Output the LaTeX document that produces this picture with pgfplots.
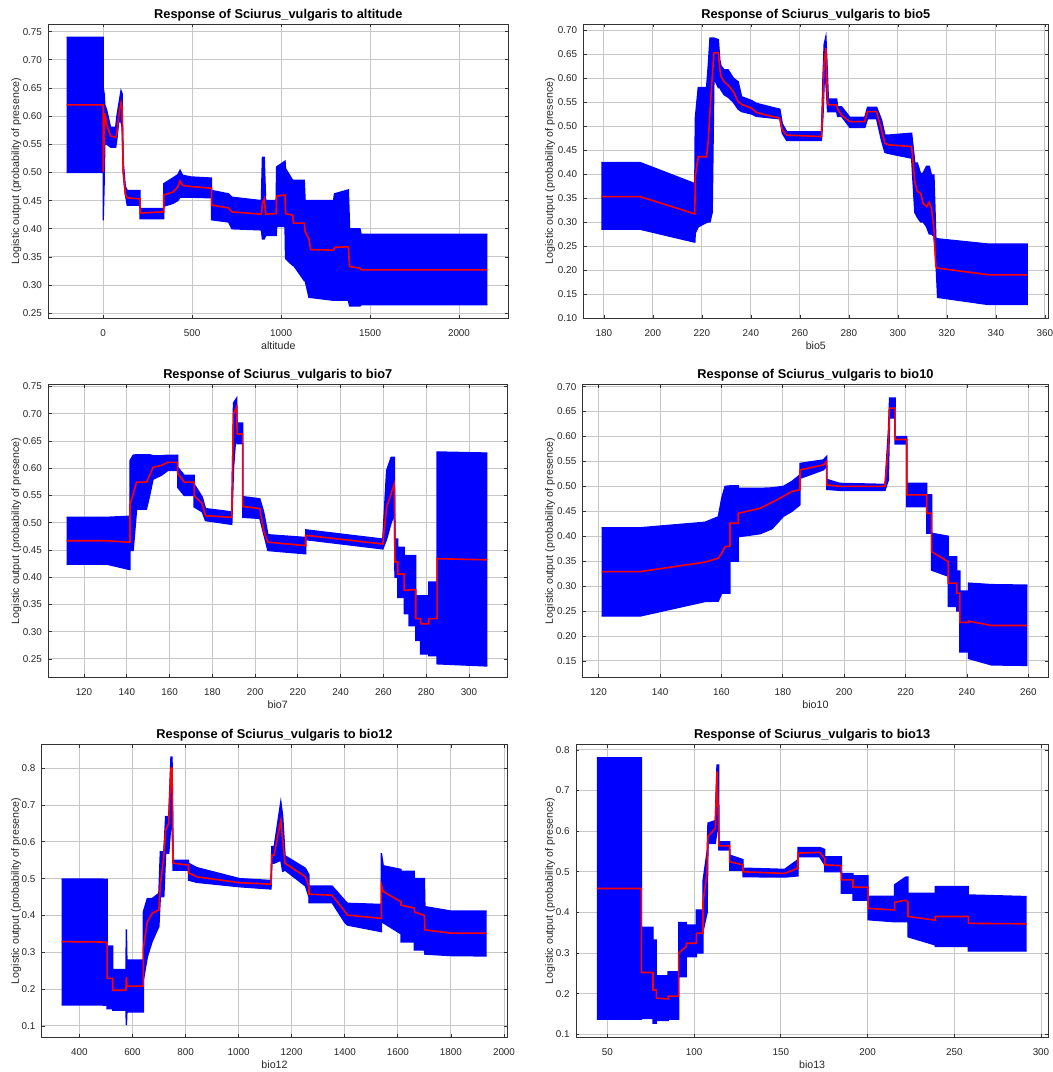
\documentclass[border=0pt]{standalone}
\usepackage{fontspec}
\setmainfont{Liberation Sans}
\usepackage{pgfplots}
\usepackage{pgfplotstable}
\pgfplotsset{compat=1.18}
\usepgfplotslibrary{fillbetween}

\pgfplotstableread{
x lo hi m
-206 0.500 0.740 0.620
0 0.500 0.740 0.620
0 0.415 0.650 0.500
5 0.480 0.640 0.560
9 0.550 0.620 0.605
20 0.550 0.610 0.585
41 0.545 0.580 0.565
70 0.545 0.580 0.562
77 0.560 0.600 0.570
87 0.590 0.620 0.600
100 0.590 0.645 0.624
106 0.580 0.640 0.615
112 0.500 0.520 0.505
124 0.462 0.475 0.462
135 0.442 0.468 0.455
207 0.442 0.468 0.453
207 0.418 0.436 0.428
340 0.418 0.436 0.430
340 0.440 0.480 0.460
391 0.445 0.490 0.465
419 0.450 0.496 0.474
432 0.456 0.504 0.485
446 0.456 0.495 0.477
493 0.456 0.492 0.475
609 0.455 0.490 0.472
609 0.416 0.468 0.442
705 0.412 0.462 0.437
723 0.400 0.456 0.430
889 0.398 0.450 0.426
895 0.382 0.527 0.445
905 0.382 0.527 0.453
913 0.388 0.450 0.426
972 0.388 0.450 0.427
975 0.404 0.510 0.458
1022 0.404 0.520 0.460
1025 0.347 0.507 0.427
1065 0.335 0.486 0.424
1070 0.335 0.486 0.410
1130 0.308 0.486 0.410
1135 0.308 0.450 0.395
1157 0.278 0.450 0.382
1166 0.278 0.450 0.363
1295 0.273 0.450 0.362
1300 0.273 0.462 0.367
1378 0.273 0.469 0.368
1385 0.263 0.400 0.333
1443 0.263 0.400 0.330
1450 0.265 0.390 0.327
2159 0.265 0.390 0.327
}\tA

\pgfplotstableread{
x lo hi m
179 0.285 0.424 0.353
194.7 0.285 0.424 0.353
217.1 0.258 0.380 0.317
217.3 0.277 0.516 0.395
218.5 0.290 0.580 0.436
221.9 0.299 0.580 0.436
222.6 0.300 0.627 0.470
223.3 0.300 0.683 0.530
224.2 0.320 0.683 0.600
224.9 0.600 0.683 0.652
226.7 0.580 0.680 0.653
227.3 0.580 0.638 0.620
227.8 0.575 0.625 0.603
229.1 0.565 0.617 0.592
230.7 0.560 0.617 0.585
232.8 0.550 0.600 0.572
234.8 0.535 0.592 0.551
236.2 0.530 0.561 0.545
240.3 0.525 0.553 0.537
242.3 0.520 0.547 0.528
251.8 0.515 0.535 0.516
252.8 0.485 0.505 0.492
254.6 0.470 0.488 0.481
268.8 0.470 0.488 0.478
269.4 0.520 0.600 0.550
269.9 0.590 0.670 0.631
270.6 0.590 0.686 0.662
271.3 0.530 0.600 0.551
271.6 0.530 0.556 0.544
275.0 0.530 0.556 0.544
275.4 0.520 0.540 0.535
277.0 0.520 0.540 0.523
280.4 0.497 0.518 0.509
286.5 0.497 0.518 0.509
287.6 0.515 0.539 0.530
291.3 0.515 0.539 0.530
293.3 0.470 0.513 0.492
294.7 0.445 0.481 0.464
296.0 0.443 0.481 0.461
305.6 0.433 0.485 0.457
306.9 0.320 0.423 0.384
307.9 0.310 0.423 0.364
309.3 0.300 0.400 0.360
310.3 0.300 0.402 0.339
311.7 0.290 0.416 0.332
312.8 0.275 0.416 0.341
313.7 0.275 0.398 0.329
314.7 0.270 0.398 0.284
315.5 0.220 0.265 0.207
316.2 0.143 0.265 0.204
337 0.128 0.254 0.190
353 0.128 0.254 0.190
}\tB

\pgfplotstableread{
x lo hi m
111.9 0.424 0.510 0.467
130.6 0.424 0.510 0.467
141.5 0.414 0.512 0.464
141.5 0.449 0.614 0.532
143.0 0.449 0.624 0.553
144.6 0.525 0.625 0.5745
149.2 0.525 0.625 0.5745
150.7 0.550 0.625 0.587
152.3 0.580 0.623 0.602
156.1 0.587 0.623 0.605
159.2 0.596 0.624 0.611
163.8 0.596 0.624 0.611
163.8 0.565 0.602 0.591
166.9 0.550 0.587 0.5745
171.5 0.550 0.587 0.5745
171.5 0.529 0.571 0.550
175.3 0.520 0.547 0.535
176.8 0.504 0.526 0.513
189.1 0.497 0.520 0.510
189.9 0.600 0.720 0.700
191.4 0.680 0.729 0.713
191.6 0.645 0.683 0.663
194.2 0.645 0.683 0.663
194.2 0.510 0.548 0.530
202.2 0.508 0.544 0.526
204.0 0.480 0.520 0.486
206.0 0.449 0.478 0.4644
223.7 0.443 0.473 0.458
223.7 0.469 0.487 0.477
259.7 0.452 0.470 0.461
261.5 0.470 0.596 0.529
263.6 0.500 0.620 0.553
265.1 0.516 0.620 0.5715
265.4 0.400 0.470 0.428
266.7 0.400 0.470 0.428
266.7 0.363 0.455 0.406
269.7 0.363 0.455 0.406
269.7 0.333 0.440 0.376
272 0.333 0.440 0.376
272 0.311 0.440 0.377
275.1 0.311 0.440 0.377
275.1 0.284 0.366 0.324
277.4 0.284 0.366 0.324
277.4 0.259 0.366 0.3145
281.2 0.259 0.366 0.3145
281.2 0.256 0.391 0.324
285.1 0.256 0.391 0.324
285.1 0.241 0.630 0.434
308.6 0.237 0.628 0.432
}\tC

\pgfplotstableread{
x lo hi m
121 0.240 0.417 0.329
133.5 0.240 0.417 0.329
154.6 0.269 0.428 0.348
159.0 0.270 0.439 0.356
160.1 0.286 0.476 0.366
161.2 0.286 0.500 0.379
162.8 0.286 0.501 0.380
162.8 0.350 0.501 0.426
165.5 0.350 0.501 0.426
165.5 0.399 0.496 0.446
172.6 0.405 0.496 0.456
176.5 0.415 0.497 0.468
180.2 0.440 0.500 0.480
183.0 0.450 0.510 0.490
185.6 0.463 0.523 0.493
185.6 0.516 0.546 0.533
193.2 0.533 0.553 0.543
194.3 0.540 0.560 0.550
194.3 0.494 0.514 0.503
198.6 0.492 0.506 0.500
213.3 0.492 0.504 0.500
214.4 0.513 0.610 0.580
214.8 0.637 0.677 0.657
216.6 0.637 0.677 0.657
216.6 0.585 0.600 0.594
220.4 0.585 0.600 0.594
220.4 0.459 0.506 0.483
226.9 0.459 0.506 0.483
226.9 0.406 0.483 0.446
228.5 0.406 0.483 0.446
228.5 0.332 0.406 0.369
233.9 0.320 0.400 0.349
233.9 0.259 0.359 0.306
236.7 0.259 0.359 0.306
236.7 0.250 0.330 0.286
237.7 0.250 0.330 0.286
237.7 0.168 0.290 0.2275
240.5 0.168 0.290 0.227
240.5 0.155 0.306 0.230
248 0.142 0.303 0.221
259.7 0.141 0.302 0.221
}\tD

\pgfplotstableread{
x lo hi m
333.4 0.157 0.499 0.329
480 0.157 0.499 0.328
504.4 0.156 0.498 0.327
504.4 0.147 0.317 0.229
525.5 0.147 0.317 0.229
525.5 0.143 0.253 0.197
575.2 0.143 0.253 0.197
577 0.102 0.362 0.233
579 0.138 0.279 0.208
641 0.138 0.279 0.208
641 0.224 0.410 0.310
656 0.288 0.446 0.383
674.5 0.330 0.446 0.406
699.4 0.370 0.460 0.415
705 0.451 0.573 0.483
718 0.451 0.573 0.560
725 0.569 0.669 0.632
736.6 0.569 0.669 0.650
745 0.650 0.830 0.800
749 0.650 0.830 0.800
753 0.523 0.550 0.542
811 0.523 0.550 0.537
811 0.496 0.542 0.516
842 0.490 0.530 0.505
1004 0.478 0.500 0.489
1122 0.472 0.495 0.485
1125 0.542 0.587 0.564
1134 0.542 0.587 0.564
1159 0.550 0.709 0.659
1166 0.520 0.670 0.605
1175 0.523 0.562 0.542
1252 0.480 0.528 0.505
1265 0.450 0.510 0.478
1265 0.435 0.480 0.458
1352 0.435 0.480 0.455
1401 0.380 0.440 0.410
1410 0.374 0.433 0.401
1538 0.356 0.430 0.392
1538 0.392 0.569 0.483
1545 0.380 0.535 0.465
1612 0.350 0.525 0.437
1612 0.328 0.520 0.428
1662 0.328 0.520 0.420
1662 0.306 0.500 0.410
1700 0.306 0.500 0.400
1702 0.295 0.424 0.361
1800 0.291 0.412 0.352
1935 0.290 0.412 0.352
}\tE

\pgfplotstableread{
x lo hi m
43.9 0.137 0.781 0.459
69.6 0.137 0.781 0.459
69.6 0.139 0.3635 0.252
76.3 0.139 0.3635 0.252
76.3 0.127 0.332 0.209
78.2 0.127 0.332 0.209
78.2 0.134 0.244 0.189
85 0.134 0.244 0.187
85 0.137 0.254 0.194
91.1 0.137 0.254 0.194
91.1 0.242 0.375 0.300
95.5 0.242 0.375 0.316
95.5 0.291 0.369 0.324
101.3 0.291 0.369 0.324
101.3 0.300 0.406 0.349
105.1 0.300 0.406 0.349
105.1 0.353 0.476 0.422
107.5 0.400 0.550 0.500
108 0.570 0.620 0.587
112.2 0.570 0.626 0.607
113.2 0.600 0.763 0.747
114.2 0.600 0.763 0.600
114.3 0.554 0.574 0.564
120.5 0.554 0.574 0.564
120.5 0.504 0.541 0.525
128.2 0.504 0.530 0.517
128.2 0.488 0.509 0.500
152.2 0.487 0.506 0.496
159.9 0.490 0.530 0.509
159.9 0.537 0.560 0.546
172.4 0.537 0.560 0.548
175.3 0.517 0.555 0.533
175.3 0.500 0.537 0.517
184.9 0.500 0.537 0.515
184.9 0.447 0.496 0.480
191.6 0.447 0.496 0.480
191.6 0.430 0.490 0.462
200.3 0.430 0.490 0.462
200.3 0.382 0.440 0.410
215.6 0.377 0.440 0.406
215.6 0.377 0.468 0.425
222 0.377 0.487 0.430
223.3 0.377 0.487 0.425
223.3 0.340 0.447 0.390
239 0.320 0.447 0.381
239 0.316 0.464 0.390
258.1 0.316 0.464 0.390
258.1 0.305 0.443 0.373
291.7 0.305 0.439 0.372
}\tF

\pgfplotsset{
  resp/.style={
    scale only axis, anchor=north west,
    grid=major, grid style={draw=black!22, line width=0.7pt},
    axis line style={draw=black!80, line width=0.7pt},
    every tick/.style={draw=black!80, line width=0.6pt},
    tick align=inside, major tick length=2.5pt,
    /pgf/number format/assume math mode=true,
    /pgf/number format/1000 sep={},
    scaled ticks=false,
    tick label style={font=\fontsize{7.4}{8.5}\selectfont, text=black!85},
    xticklabel style={yshift=-5pt},
    yticklabel style={xshift=-1.2pt},
    label style={font=\fontsize{8}{9}\selectfont, text=black!85},
    title style={font=\bfseries\fontsize{9.6}{11}\selectfont, at={(axis description cs:0.5,1)}, anchor=base, yshift=-2pt},
    ylabel={Logistic output (probability of presence)},
    xlabel style={at={(axis description cs:0.5,0)}, anchor=center, yshift=-20.3pt},
  },
  ylab/.style={ylabel style={at={(axis description cs:0,0.5)}, anchor=center, yshift=#1}},
  ytwo/.style={yticklabel style={/pgf/number format/.cd, fixed, fixed zerofill, precision=2}},
  yone/.style={yticklabel style={/pgf/number format/.cd, fixed, fixed zerofill, precision=1}},
}

\newcommand{\band}[2]{%
  \addplot[blue, line width=1pt, name path=hi#2] table[x=x,y=hi]{#1};
  \addplot[blue, line width=1pt, name path=lo#2] table[x=x,y=lo]{#1};
  \addplot[blue] fill between[of=hi#2 and lo#2];
  \addplot[red, line width=1.2pt] table[x=x,y=m]{#1};
}

\begin{document}
\begin{tikzpicture}

\begin{axis}[resp, ytwo, ylab=24pt, at={(36.2pt,786pt)}, width=345pt, height=220.7pt,
  title={Response of Sciurus\_vulgaris to altitude}, xlabel={altitude},
  xmin=-309, xmax=2277, ymin=0.2411, ymax=0.7636,
  xtick={0,500,1000,1500,2000},
  ytick={0.25,0.30,0.35,0.40,0.45,0.50,0.55,0.60,0.65,0.70,0.75}]
  \band{\tA}{A}
\end{axis}

\begin{axis}[resp, ytwo, ylab=25pt, at={(437.5pt,786pt)}, width=348.75pt, height=220.7pt,
  title={Response of Sciurus\_vulgaris to bio5}, xlabel={bio5},
  xmin=171.6, xmax=361.4, ymin=0.0995, ymax=0.7125,
  xtick={180,200,220,240,260,280,300,320,340,360},
  ytick={0.10,0.15,0.20,0.25,0.30,0.35,0.40,0.45,0.50,0.55,0.60,0.65,0.70}]
  \band{\tB}{B}
\end{axis}

\begin{axis}[resp, ytwo, ylab=24pt, at={(36.2pt,515.8pt)}, width=344.25pt, height=220pt,
  title={Response of Sciurus\_vulgaris to bio7}, xlabel={bio7},
  xmin=103.3, xmax=317.9, ymin=0.2157, ymax=0.7543,
  xtick={120,140,160,180,200,220,240,260,280,300},
  ytick={0.25,0.30,0.35,0.40,0.45,0.50,0.55,0.60,0.65,0.70,0.75}]
  \band{\tC}{C}
\end{axis}

\begin{axis}[resp, ytwo, ylab=24.5pt, at={(437pt,515.8pt)}, width=349.2pt, height=220pt,
  title={Response of Sciurus\_vulgaris to bio10}, xlabel={bio10},
  xmin=114.8, xmax=266.5, ymin=0.1166, ymax=0.7047,
  xtick={120,140,160,180,200,220,240,260},
  ytick={0.15,0.20,0.25,0.30,0.35,0.40,0.45,0.50,0.55,0.60,0.65,0.70}]
  \band{\tD}{D}
\end{axis}

\begin{axis}[resp, yone, ylab=19.3pt, at={(31.3pt,245.8pt)}, width=349.2pt, height=220pt,
  title={Response of Sciurus\_vulgaris to bio12}, xlabel={bio12},
  xmin=258, xmax=2012.6, ymin=0.0683, ymax=0.865,
  xtick={400,600,800,1000,1200,1400,1600,1800,2000},
  ytick={0.1,0.2,0.3,0.4,0.5,0.6,0.7,0.8}]
  \band{\tE}{E}
\end{axis}

\begin{axis}[resp, yone, ylab=19.5pt, at={(432pt,245.8pt)}, width=354.2pt, height=220pt,
  title={Response of Sciurus\_vulgaris to bio13}, xlabel={bio13},
  xmin=31.9, xmax=304.2, ymin=0.0918, ymax=0.814,
  xtick={50,100,150,200,250,300},
  ytick={0.1,0.2,0.3,0.4,0.5,0.6,0.7,0.8}]
  \band{\tF}{F}
\end{axis}

\pgfresetboundingbox
\path[use as bounding box] (0,0) rectangle (789.75pt,804pt);
\end{tikzpicture}
\end{document}
